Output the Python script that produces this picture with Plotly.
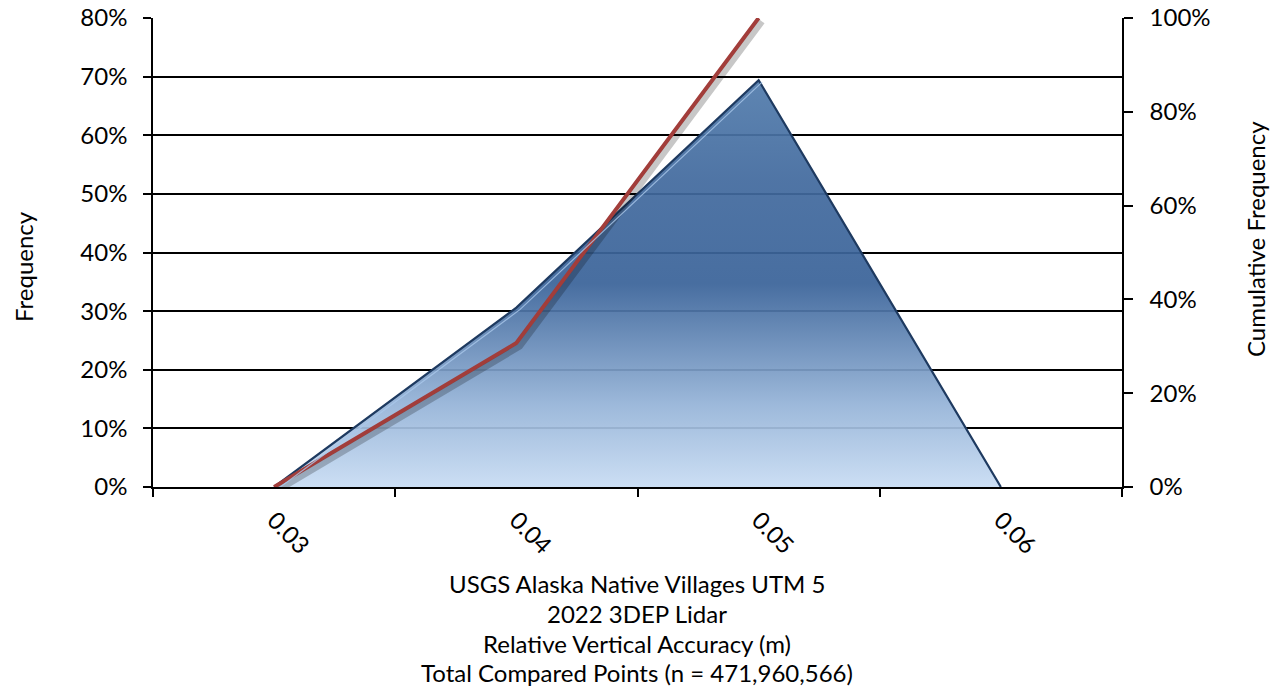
import plotly.graph_objects as go

categories = ["0.03", "0.04", "0.05", "0.06"]
frequency = [0.0, 0.306, 0.694, 0.0]
cumulative = [0.0, 0.307, 1.0, None]
left_ticks = [0, 0.1, 0.2, 0.3, 0.4, 0.5, 0.6, 0.7, 0.8]
right_ticks = [0, 0.2, 0.4, 0.6, 0.8, 1.0]
title_lines = [
    "USGS Alaska Native Villages UTM 5",
    "2022 3DEP Lidar",
    "Relative Vertical Accuracy (m)",
    "Total Compared Points (n = 471,960,566)",
]

# page geometry (body margin removed by post_script)
W, H = 1282, 696
PX0, PX1, PY0, PY1 = 153, 1122, 18, 487   # plot area in page pixels
L, T = PX0, PY0
PW, PH = PX1 - PX0, PY1 - PY0
R = W - L - PW
B = H - T - PH
FONT = "Lato"
FS = 24

def px_x(p):
    return (p - PX0) / PW

def px_y(p):
    return (PY1 - p) / PH

fig = go.Figure()

# frequency area with vertical gradient
fig.add_trace(go.Scatter(
    x=categories, y=frequency, mode="lines",
    fill="tozeroy",
    fillgradient=dict(
        type="vertical",
        start=0, stop=max(frequency),
        colorscale=[
            [0.0, "rgba(200,220,243,0.93)"],
            [0.2, "rgba(150,180,216,0.93)"],
            [0.5, "rgba(58,99,153,0.93)"],
            [0.75, "rgba(66,106,158,0.93)"],
            [1.0, "rgba(82,124,172,0.93)"],
        ],
    ),
    line=dict(color="#1E3A60", width=2.2),
    hoverinfo="skip", showlegend=False,
    xaxis="x", yaxis="y",
))

# inner highlight of the area edge (same data, shifted overlay axes)
hy = 2.0 * 0.8 / PH
fig.add_trace(go.Scatter(
    x=categories[:3], y=frequency[:3], mode="lines",
    line=dict(color="rgba(170,200,235,0.8)", width=1.2),
    hoverinfo="skip", showlegend=False,
    xaxis="x2", yaxis="y4",
))

# shadow of cumulative line (same data on slightly shifted overlay axes)
dx = 3.5 * 4 / PW
dy = 3.5 / PH
fig.add_trace(go.Scatter(
    x=categories, y=cumulative, mode="lines",
    line=dict(color="rgba(0,0,0,0.22)", width=6),
    hoverinfo="skip", showlegend=False,
    xaxis="x2", yaxis="y3",
))

# cumulative line
fig.add_trace(go.Scatter(
    x=categories, y=cumulative, mode="lines",
    line=dict(color="#A23D3A", width=4),
    showlegend=False,
    xaxis="x", yaxis="y2",
))

tickfont = dict(family=FONT, size=FS, color="#000")

fig.update_layout(
    width=W, height=H,
    margin=dict(l=L, r=R, t=T, b=B, pad=0, autoexpand=False),
    paper_bgcolor="white", plot_bgcolor="white",
    showlegend=False,
    font=dict(family=FONT, size=FS, color="#000"),
    xaxis=dict(
        type="category", categoryorder="array", categoryarray=categories,
        range=[-0.5, 3.5], tickson="boundaries", automargin=False,
        showgrid=False, zeroline=False,
        showline=True, linecolor="#000", linewidth=1.5,
        ticks="outside", ticklen=8, tickwidth=1.5, tickcolor="#000",
        tickangle=45, tickfont=tickfont, ticklabelstandoff=8,
        ticklabeloverflow="allow",
    ),
    xaxis2=dict(
        type="category", categoryorder="array", categoryarray=categories,
        range=[-0.5 - dx, 3.5 - dx], overlaying="x", visible=False,
    ),
    yaxis=dict(
        range=[0, 0.8], tickvals=left_ticks, tickformat=".0%",
        automargin=False, ticklabeloverflow="allow",
        showgrid=True, gridcolor="#000", gridwidth=1.5,
        zeroline=False,
        showline=True, linecolor="#000", linewidth=1.5,
        ticks="outside", ticklen=8, tickwidth=1.5, tickcolor="#000",
        tickfont=tickfont, ticklabelstandoff=11,
    ),
    yaxis2=dict(
        range=[0, 1.0], tickvals=right_ticks, tickformat=".0%",
        overlaying="y", side="right", automargin=False,
        ticklabeloverflow="allow",
        showgrid=False, zeroline=False,
        showline=True, linecolor="#000", linewidth=1.5,
        ticks="outside", ticklen=9, tickwidth=1.5, tickcolor="#000",
        tickfont=tickfont, ticklabelstandoff=12,
    ),
    yaxis3=dict(
        range=[0 + dy, 1.0 + dy], overlaying="y", visible=False,
    ),
    yaxis4=dict(
        range=[0 + hy, 0.8 + hy], overlaying="y", visible=False,
    ),
)

ann = [
    dict(text="Frequency", x=px_x(23), y=px_y(267), textangle=-90),
    dict(text="Cumulative Frequency", x=px_x(1255), y=px_y(239), textangle=-90),
]
for line, py in zip(title_lines, [583, 613, 643, 672]):
    ann.append(dict(text=line, x=px_x(637), y=px_y(py), textangle=0))
for a in ann:
    a.update(xref="paper", yref="paper", showarrow=False,
             xanchor="center", yanchor="middle",
             font=dict(family=FONT, size=FS, color="#000"))
fig.update_layout(annotations=ann)

fig.write_html(
    "out.html",
    config={"displayModeBar": False},
    post_script="document.body.style.margin='0';document.body.style.overflow='hidden';",
)
